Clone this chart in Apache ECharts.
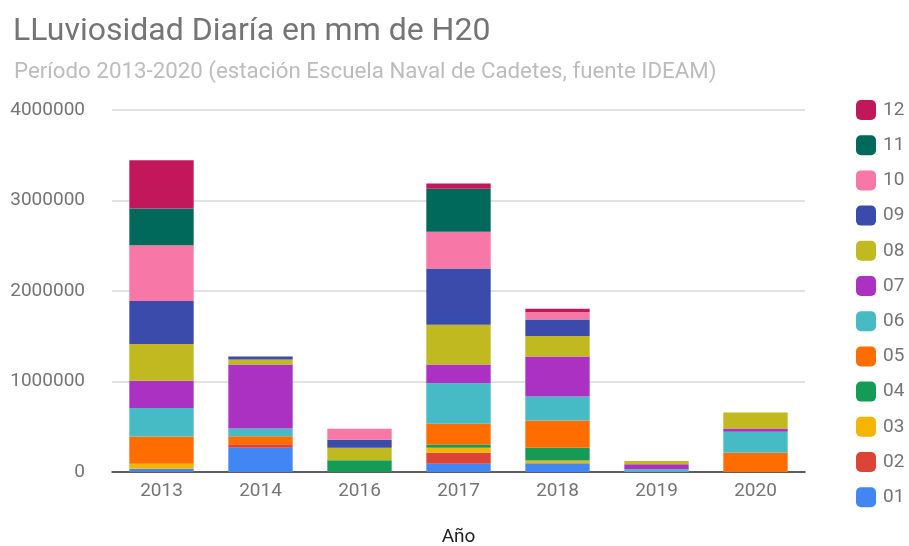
<!DOCTYPE html>
<html>
<head>
<meta charset="utf-8">
<title>LLuviosidad Diaría en mm de H20</title>
<script src="https://cdn.jsdelivr.net/npm/echarts@6/dist/echarts.min.js"></script>
<style>
	html, body { margin: 0; padding: 0; background: #fff; }
	#main { width: 909px; height: 546px; }
</style>
</head>
<body>
	<div id="main"></div>
	<script type="text/javascript">
		// años (categorías del eje x)
		var years = ['2013', '2014', '2016', '2017', '2018', '2019', '2020'];
		var yTicks = [0, 1000000, 2000000, 3000000, 4000000];

		// lluvia por mes, un valor por año
		var m01 = [35000, 269000, 0, 92000, 96000, 0, 0];
		var m02 = [0, 37000, 0, 122000, 0, 0, 0];
		var m03 = [55000, 0, 0, 55000, 30000, 0, 0];
		var m04 = [0, 0, 129000, 36000, 143000, 0, 0];
		var m05 = [302000, 88000, 0, 228000, 301000, 0, 214000];
		var m06 = [316000, 88000, 0, 448000, 265000, 30000, 231000];
		var m07 = [299000, 706000, 0, 207000, 441000, 55000, 37000];
		var m08 = [408000, 55000, 140000, 440000, 228000, 37000, 176000];
		var m09 = [474000, 33000, 88000, 621000, 180000, 0, 0];
		var m10 = [617000, 0, 121000, 405000, 84000, 0, 0];
		var m11 = [405000, 0, 0, 477000, 0, 0, 0];
		var m12 = [533000, 0, 0, 56000, 37000, 0, 0];

		var months = ['01', '02', '03', '04', '05', '06', '07', '08', '09', '10', '11', '12'];
		var monthData = [m01, m02, m03, m04, m05, m06, m07, m08, m09, m10, m11, m12];
		var colors = ['#4286f4', '#db4437', '#f5b400', '#149c57', '#ff6d00', '#46bbc5',
		              '#aa31c2', '#c0ba20', '#3a4bab', '#f777a7', '#00695c', '#c2185b'];

		var series = [];
		for (var i = 0; i < months.length; i++) {
			series.push({
				name: months[i],
				type: 'bar',
				stack: 'total',
				barWidth: '65%',
				itemStyle: { color: colors[i] },
				data: monthData[i]
			});
		}

		var myChart = echarts.init(document.getElementById('main'));
		myChart.setOption({
			animation: false,
			color: colors,
			textStyle: { fontFamily: 'Roboto' },
			title: [{
				text: 'LLuviosidad Diaría en mm de H20',
				left: 8,
				top: 11,
				textStyle: { fontSize: 32, fontWeight: 'normal', color: '#757575', fontFamily: 'Roboto' }
			}, {
				text: 'Período 2013-2020 (estación Escuela Naval de Cadetes, fuente IDEAM)',
				left: 9,
				top: 56,
				textStyle: { fontSize: 22.3, fontWeight: 'normal', color: '#bdbdbd', fontFamily: 'Roboto' }
			}],
			legend: {
				orient: 'vertical',
				left: 851,
				top: 95,
				itemWidth: 20,
				itemHeight: 20,
				itemGap: 15.2,
				icon: 'roundRect',
				textStyle: { fontSize: 19, color: '#757575', padding: [0, 0, 0, 2] },
				data: months.slice().reverse()
			},
			grid: {
				left: 112,
				right: 104,
				top: 110,
				bottom: 74,
				outerBoundsMode: 'none'
			},
			xAxis: {
				type: 'category',
				data: years,
				name: 'Año',
				nameLocation: 'middle',
				nameGap: 56,
				nameTextStyle: { fontSize: 19, color: '#222' },
				axisTick: { show: false },
				axisLine: { lineStyle: { color: '#333', width: 1.5 } },
				axisLabel: { fontSize: 19, color: '#757575', margin: 10 }
			},
			yAxis: {
				type: 'value',
				min: yTicks[0],
				max: yTicks[yTicks.length - 1],
				interval: 1000000,
				axisLabel: {
					fontSize: 19, color: '#757575', margin: 27,
					formatter: function (v) { return String(v); }
				},
				splitLine: { lineStyle: { color: '#d9d9d9', width: 1.5 } },
				axisLine: { show: false },
				axisTick: { show: false }
			},
			series: series
		});
	</script>
</body>
</html>
